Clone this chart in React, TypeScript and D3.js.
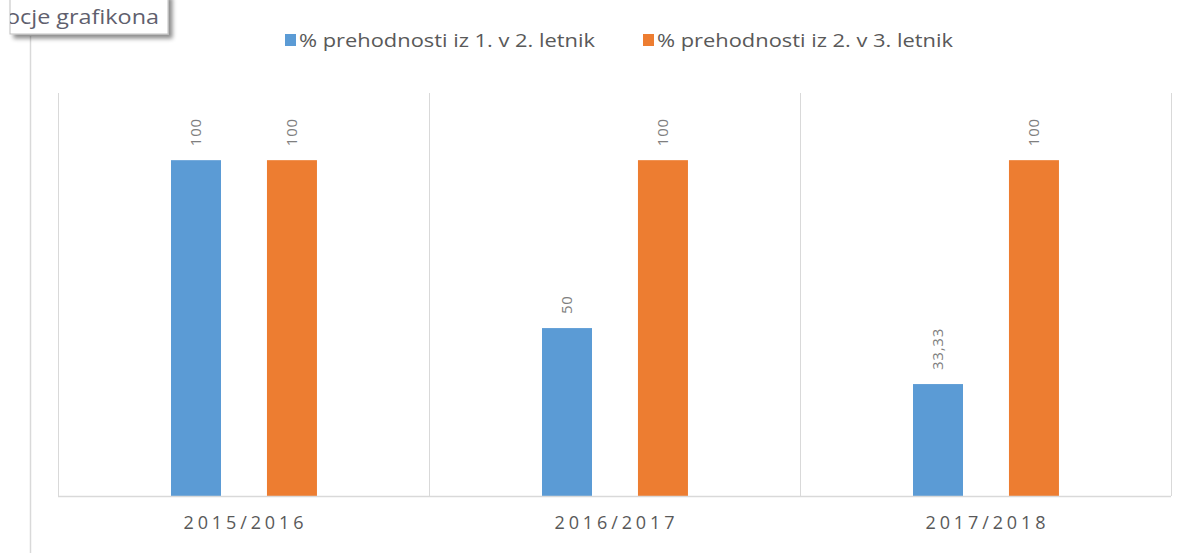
import React from 'react';
import * as d3 from 'd3';

const categories = ['2015/2016', '2016/2017', '2017/2018'];
const seriesNames = ['% prehodnosti iz 1. v 2. letnik', '% prehodnosti iz 2. v 3. letnik'];
const series1 = [100, 50, 33.33];
const series2 = [100, 100, 100];
const colors = ['#5b9bd5', '#ed7d31'];

const W = 1187;
const H = 553;
const FONT = '"Open Sans", "Liberation Sans", sans-serif';

export default function App() {
  const left = 58;
  const right = 1171;
  const top = 93;
  const bottom = 496;

  const x = d3.scaleBand<string>().domain(categories).range([left, right]).paddingInner(0).paddingOuter(0);
  const bw = x.bandwidth();
  const inner = d3.scaleBand<number>().domain([0, 1]).range([bw * 0.3046, bw * 0.698]).paddingInner(0.479).paddingOuter(0);
  const y = d3.scaleLinear().domain([0, 120]).range([bottom, top]);

  const all = [series1, series2];
  const fmt = (v: number) => String(v).replace('.', ',');

  return (
    <svg width={W} height={H} style={{ position: 'absolute', left: 0, top: 0, background: '#fff' }}>
      <defs>
        <filter id="sh" x="-10%" y="-30%" width="130%" height="180%">
          <feDropShadow dx="4" dy="4" stdDeviation="2" floodColor="#000" floodOpacity="0.45" />
        </filter>
        <clipPath id="tipclip">
          <rect x={10} y={0} width={158} height={34} />
        </clipPath>
      </defs>

      {/* page edge line */}
      <line x1={30.5} x2={30.5} y1={36} y2={H} stroke="#d9d9d9" strokeWidth={1.5} />

      {/* tooltip remnant */}
      <rect x={10} y={-6} width={158} height={40} fill="#fff" stroke="#bfbfbf" filter="url(#sh)" />
      <g clipPath="url(#tipclip)">
        <text x={6} y={24} fontFamily={FONT} fontSize={20} textLength={153} lengthAdjust="spacingAndGlyphs" fill="#5f5f6e">
          ocje grafikona
        </text>
      </g>

      {/* legend */}
      {seriesNames.map((n, i) => {
        const lx = i === 0 ? 285 : 643;
        return (
          <g key={n}>
            <rect x={lx} y={34} width={11} height={12} fill={colors[i]} />
            <text x={lx + 14} y={47} fontFamily={FONT} fontSize={19} textLength={296} lengthAdjust="spacingAndGlyphs" fill="#595959">
              {n}
            </text>
          </g>
        );
      })}

      {/* vertical category separators */}
      {[left, ...categories.map((c) => (x(c) as number) + bw)].map((vx, i) => (
        <line key={i} x1={vx + 0.5} x2={vx + 0.5} y1={top} y2={bottom} stroke="#d9d9d9" />
      ))}

      {/* bars */}
      {categories.map((c, ci) =>
        all.map((s, si) => {
          const bx = (x(c) as number) + (inner(si) as number);
          const v = s[ci];
          return (
            <g key={c + si}>
              <rect x={bx} y={y(v)} width={inner.bandwidth()} height={bottom - y(v)} fill={colors[si]} />
              <text
                transform={`translate(${bx + inner.bandwidth() / 2 + 5},${y(v) - 14}) rotate(-90)`}
                fontFamily={FONT}
                fontSize={15}
                letterSpacing={0.8}
                fill="#7f7f7f"
              >
                {fmt(v)}
              </text>
            </g>
          );
        })
      )}

      {/* x axis line */}
      <line x1={left} x2={right} y1={bottom + 0.5} y2={bottom + 0.5} stroke="#d9d9d9" strokeWidth={1.5} />

      {/* category labels */}
      {categories.map((c) => (
        <text
          key={c}
          x={(x(c) as number) + bw / 2 - 60}
          y={529}
          fontFamily={FONT}
          fontSize={18}
          textLength={120}
          lengthAdjust="spacing"
          fill="#595959"
        >
          {c}
        </text>
      ))}
    </svg>
  );
}
